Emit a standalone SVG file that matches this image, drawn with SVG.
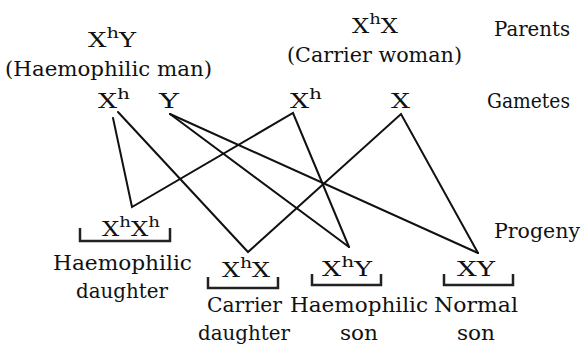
<svg xmlns="http://www.w3.org/2000/svg" width="582" height="345" viewBox="0 0 582 345">
<style>
.t text{font-family:"DejaVu Serif",serif;font-size:20px;fill:#111}
.s{font-size:15px}
.ln{stroke:#111;stroke-width:2;fill:none;stroke-linecap:round;stroke-linejoin:miter}
.br{stroke:#222;stroke-width:2.5;fill:none}
</style>
<rect width="582" height="345" fill="#fff"/>
<g id="connectors">
<path class="ln" d="M113,118 L132,207 L293,113 L349,247"/>
<path class="ln" d="M118,112 L248,252 L401,114 L478,253"/>
<path class="ln" d="M170,114 L349,247"/>
<path class="ln" d="M170,114 L478,253"/>
</g>
<g id="brackets">
<path class="br" d="M80,228 V241 H170 V228"/>
<path class="br" d="M208,277 V288 H278 V277"/>
<path class="br" d="M312,274 V285 H381 V274"/>
<path class="br" d="M444,274 V285 H513 V274"/>
</g>
<g class="t">
<g id="parent-man">
<text x="88" y="47" textLength="48" lengthAdjust="spacingAndGlyphs">X<tspan class="s" dy="-9">h</tspan><tspan dy="9">Y</tspan></text>
<text x="5" y="76" textLength="207" lengthAdjust="spacingAndGlyphs">(Haemophilic man)</text>
</g>
<g id="parent-woman">
<text x="352" y="33" textLength="46" lengthAdjust="spacingAndGlyphs">X<tspan class="s" dy="-9">h</tspan><tspan dy="9">X</tspan></text>
<text x="287" y="62" textLength="175" lengthAdjust="spacingAndGlyphs">(Carrier woman)</text>
</g>
<g id="label-parents"><text x="494" y="36" textLength="76" lengthAdjust="spacingAndGlyphs">Parents</text></g>
<g id="gamete-man-xh"><text x="98" y="108" textLength="32" lengthAdjust="spacingAndGlyphs">X<tspan class="s" dy="-9">h</tspan></text></g>
<g id="gamete-man-y"><text x="159" y="108" textLength="20" lengthAdjust="spacingAndGlyphs">Y</text></g>
<g id="gamete-woman-xh"><text x="290" y="108" textLength="32" lengthAdjust="spacingAndGlyphs">X<tspan class="s" dy="-9">h</tspan></text></g>
<g id="gamete-woman-x"><text x="391" y="108" textLength="19" lengthAdjust="spacingAndGlyphs">X</text></g>
<g id="label-gametes"><text x="487" y="108" textLength="83" lengthAdjust="spacingAndGlyphs">Gametes</text></g>
<g id="label-progeny"><text x="494" y="238" textLength="86" lengthAdjust="spacingAndGlyphs">Progeny</text></g>
<g id="progeny-xhxh">
<text x="102" y="236" textLength="58" lengthAdjust="spacingAndGlyphs">X<tspan class="s" dy="-9">h</tspan><tspan dy="9">X</tspan><tspan class="s" dy="-9">h</tspan></text>
<text x="53" y="270" textLength="139" lengthAdjust="spacingAndGlyphs">Haemophilic</text>
<text x="76" y="298" textLength="92" lengthAdjust="spacingAndGlyphs">daughter</text>
</g>
<g id="progeny-xhx">
<text x="222" y="277" textLength="48" lengthAdjust="spacingAndGlyphs">X<tspan class="s" dy="-9">h</tspan><tspan dy="9">X</tspan></text>
<text x="207" y="312" textLength="75" lengthAdjust="spacingAndGlyphs">Carrier</text>
<text x="198" y="340" textLength="92" lengthAdjust="spacingAndGlyphs">daughter</text>
</g>
<g id="progeny-xhy">
<text x="322" y="276" textLength="50" lengthAdjust="spacingAndGlyphs">X<tspan class="s" dy="-9">h</tspan><tspan dy="9">Y</tspan></text>
<text x="290" y="312" textLength="138" lengthAdjust="spacingAndGlyphs">Haemophilic</text>
<text x="340" y="340" textLength="38" lengthAdjust="spacingAndGlyphs">son</text>
</g>
<g id="progeny-xy">
<text x="457" y="276" textLength="38" lengthAdjust="spacingAndGlyphs">XY</text>
<text x="434" y="312" textLength="84" lengthAdjust="spacingAndGlyphs">Normal</text>
<text x="457" y="340" textLength="38" lengthAdjust="spacingAndGlyphs">son</text>
</g>
</g>
</svg>
